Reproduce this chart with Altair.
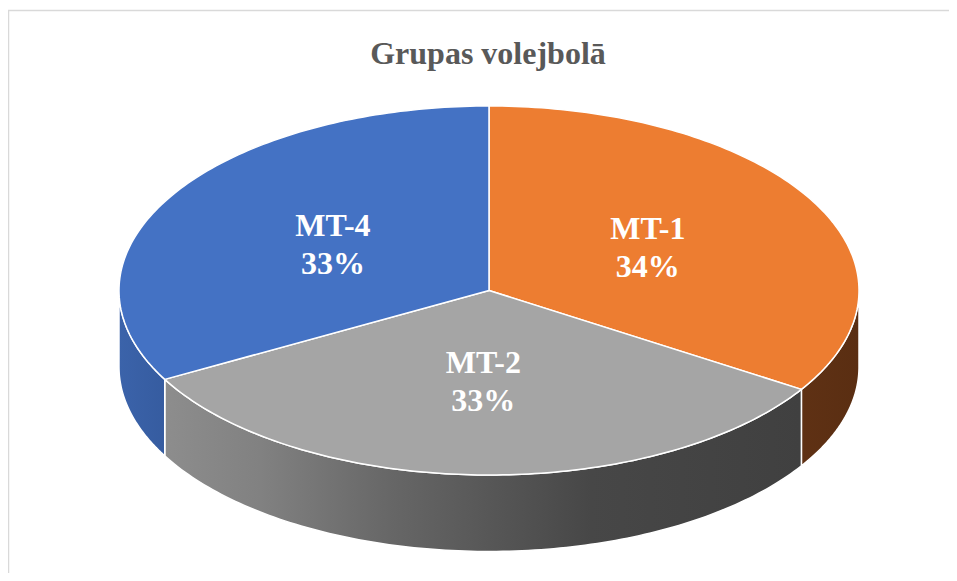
import altair as alt
import pandas as pd

# ---- data ----
categories = ["MT-1", "MT-2", "MT-4"]
values = [34, 33, 33]
top_colors = ["#ED7D31", "#A5A5A5", "#4472C4"]
title_text = "Grupas volejbolā"

# ---- layout (pixels inside the plot area) ----
W, H = 941, 565
CX, CY, RX, RY, DEPTH = 481, 282.5, 370, 184.5, 76.5
N = 120
LR = 0.49
FONT = "Liberation Serif"

df = pd.DataFrame({"category": categories, "value": values,
                   "order": list(range(len(categories)))})

xs = alt.Scale(domain=[0, W], nice=False, zero=False)
ys = alt.Scale(domain=[0, H], nice=False, zero=False, reverse=True)
X = alt.X("px:Q", scale=xs, axis=None)
Y = alt.Y("py:Q", scale=ys, axis=None)

base = alt.Chart(df).transform_joinaggregate(
    total="sum(value)"
).transform_window(
    cum="sum(value)", sort=[alt.SortField("order")], frame=[None, 0]
).transform_calculate(
    a0="90 - 360*(datum.cum - datum.value)/datum.total",
    a1="90 - 360*datum.cum/datum.total",
)

# ---- top faces ----
top = base.transform_calculate(
    idx=f"sequence(0, {N + 2})"
).transform_flatten(["idx"]).transform_calculate(
    th=f"(datum.a0 + (datum.a1 - datum.a0)*(datum.idx-1)/{N})*PI/180"
).transform_calculate(
    px=f"datum.idx == 0 ? {CX} : {CX} + {RX}*cos(datum.th)",
    py=f"datum.idx == 0 ? {CY} : {CY} - {RY}*sin(datum.th)",
).mark_line(
    interpolate="linear-closed", filled=True, stroke="white",
    strokeWidth=1.5, strokeJoin="round"
).encode(
    x=X, y=Y, order="idx:Q", detail="category:N",
    fill=alt.Fill("category:N", scale=alt.Scale(domain=categories, range=top_colors),
                  legend=None),
)


def grad(stops):
    return alt.Gradient(
        gradient="linear", x1=0, x2=1, y1=0, y2=0,
        stops=[alt.GradientStop(color=c, offset=o) for o, c in stops],
    )


side_fills = {
    "MT-1": grad([(0, "#5F3114"), (1, "#5A2E12")]),
    "MT-2": grad([(0, "#8D8D8D"), (0.15, "#818181"), (0.36, "#666666"),
                  (0.67, "#474747"), (1, "#404040")]),
    "MT-4": grad([(0, "#3B63AA"), (1, "#365CA0")]),
}


def side_layer(cat):
    return base.transform_filter(
        alt.datum.category == cat
    ).transform_calculate(
        sa="max(datum.a1, -180)", sb="min(datum.a0, 0)"
    ).transform_filter(
        "datum.sb > datum.sa"
    ).transform_calculate(
        idx=f"sequence(0, {2 * N + 2})"
    ).transform_flatten(["idx"]).transform_calculate(
        j=f"datum.idx <= {N} ? datum.idx : {2 * N + 1} - datum.idx",
        bottom=f"datum.idx > {N} ? 1 : 0",
    ).transform_calculate(
        th=f"(datum.sa + (datum.sb - datum.sa)*datum.j/{N})*PI/180"
    ).transform_calculate(
        px=f"{CX} + {RX}*cos(datum.th)",
        py=f"{CY} - {RY}*sin(datum.th) + datum.bottom*{DEPTH}",
    ).mark_line(
        interpolate="linear-closed", filled=True, fill=side_fills[cat],
        stroke="white", strokeWidth=1.5, strokeJoin="round"
    ).encode(x=X, y=Y, order="idx:Q")


sides = [side_layer(c) for c in categories]

# ---- labels ----
lab = base.transform_calculate(
    mid="(datum.a0 + datum.a1)/2*PI/180",
    pct="format(datum.value/datum.total, '.0%')",
).transform_calculate(
    px=f"{CX} + {RX * LR}*cos(datum.mid)",
    py=f"{CY} - {RY * LR}*sin(datum.mid)",
)
t1 = lab.mark_text(font=FONT, fontWeight="bold", fontSize=32, color="white",
                   dy=-18).encode(x=X, y=Y, text="category:N")
t2 = lab.mark_text(font=FONT, fontWeight="bold", fontSize=32, color="white",
                   dy=20).encode(x=X, y=Y, text="pct:N")

# ---- title ----
title = alt.Chart(pd.DataFrame({"t": [title_text]})).mark_text(
    font=FONT, fontWeight="bold", fontSize=32, color="#595959", baseline="alphabetic"
).encode(x=alt.value(480), y=alt.value(55.5), text="t:N")

# ---- chart-area border ----
border_l = alt.Chart(pd.DataFrame({"t": [0]})).mark_rule(color="#D9D9D9", strokeWidth=1.5).encode(
    x=alt.value(0.5), y=alt.value(2), y2=alt.value(H))
border_t = alt.Chart(pd.DataFrame({"t": [0]})).mark_rule(color="#D9D9D9", strokeWidth=1.5).encode(
    x=alt.value(0), x2=alt.value(W), y=alt.value(2.5))

chart = alt.layer(*sides, top, t1, t2, title, border_l, border_t).properties(
    width=W, height=H, autosize=alt.AutoSizeParams(type="none"), padding=0
).configure_view(stroke=None)

chart.save("out.html", embed_options={"renderer": "svg", "actions": False})
